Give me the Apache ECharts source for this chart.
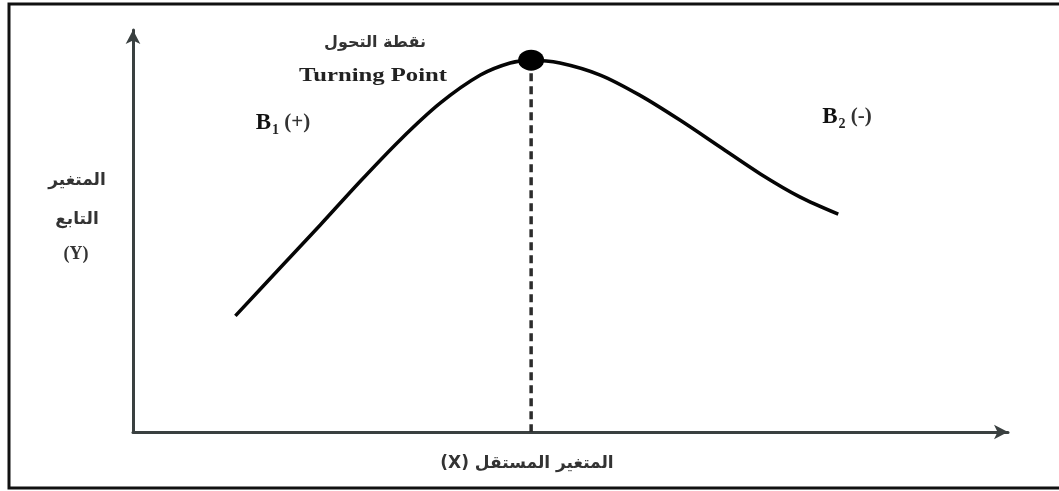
<!DOCTYPE html>
<html>
<head>
<meta charset="utf-8">
<script src="https://cdn.jsdelivr.net/npm/echarts@6/dist/echarts.min.js"></script>
<style>
  html, body { margin: 0; padding: 0; background: #fff; }
  #chart { width: 1059px; height: 491px; }
</style>
</head>
<body>
<div id="chart"></div>
<script>
// Curve: dependent variable Y against independent variable X (schematic units 0-100)
const curveX = [11.7, 16.8, 21.4, 25.9, 30.5, 35.1, 39.7, 43.1, 45.5, 48.8, 53.4, 57.9, 62.5, 67.1, 71.7, 76.2, 80.6];
const curveY = [28.9, 40.8, 51.5, 62.2, 72.6, 81.8, 88.8, 91.8, 92.5, 91.8, 88.8, 83.8, 77.6, 70.9, 64.2, 58.5, 54.2];

// Turning point of the curve
const turningPoint = [45.5, 92.5];

// Text shown on the chart
const turningLabelAr = 'نقطة التحول';
const turningLabelEn = 'Turning Point';
const yLabelLines = ['المتغير', 'التابع', '(Y)'];
const xLabel = '(X) المتغير المستقل';
const slopeLabels = [
  { sub: '1', sign: '(+)' },
  { sub: '2', sign: '(-)' }
];

const curveData = curveX.map((x, i) => [x, curveY[i]]);

const axisLine = {
  show: true,
  onZero: false,
  symbol: ['none', 'arrow'],
  symbolSize: [11, 14],
  lineStyle: { color: '#3a4040', width: 3 }
};

const arFont = 'DejaVu Sans';
const serif = 'Liberation Serif';

function slopeText(item) {
  return {
    text: '{b|B}{s|' + item.sub + '}{g| ' + item.sign + '}',
    rich: {
      b: { fontFamily: serif, fontWeight: 'bold', fontSize: 23, lineHeight: 28, fill: '#111' },
      s: { fontFamily: serif, fontWeight: 'bold', fontSize: 14, lineHeight: 28, fill: '#222', verticalAlign: 'bottom', padding: [9, 0, 0, 1] },
      g: { fontFamily: serif, fontWeight: 'bold', fontSize: 21, lineHeight: 28, fill: '#333' }
    },
    align: 'center',
    verticalAlign: 'middle'
  };
}

function plainText(x, y, text, font) {
  return {
    type: 'text', x: x, y: y,
    style: { text: text, font: font, fill: '#333', align: 'center', verticalAlign: 'middle' }
  };
}

const chart = echarts.init(document.getElementById('chart'), null, { renderer: 'canvas' });

chart.setOption({
  backgroundColor: '#fff',
  animation: false,
  grid: { left: 133, right: 51, top: 30, bottom: 59 },
  xAxis: {
    type: 'value', min: 0, max: 100,
    axisLine: axisLine,
    axisTick: { show: false },
    axisLabel: { show: false },
    splitLine: { show: false }
  },
  yAxis: {
    type: 'value', min: 0, max: 100,
    axisLine: axisLine,
    axisTick: { show: false },
    axisLabel: { show: false },
    splitLine: { show: false }
  },
  series: [
    {
      type: 'line',
      data: curveData,
      smooth: 0.3,
      symbol: 'none',
      lineStyle: { color: '#050505', width: 3.5 },
      z: 3
    },
    {
      type: 'line',
      data: [turningPoint, [turningPoint[0], 0]],
      symbol: 'none',
      lineStyle: { color: '#2c2c2c', width: 3.5, type: [8, 5] },
      z: 2
    },
    {
      type: 'scatter',
      data: [turningPoint],
      symbol: 'circle',
      symbolSize: [26, 21],
      itemStyle: { color: '#000', opacity: 1 },
      z: 4
    }
  ],
  graphic: [
    {
      type: 'rect',
      shape: { x: 9, y: 4, width: 1070, height: 484 },
      style: { fill: 'none', stroke: '#111', lineWidth: 3 },
      silent: true
    },
    plainText(375, 43, turningLabelAr, 'bold 16px "' + arFont + '"'),
    {
      type: 'text', x: 373, y: 76, scaleX: 1.3, originX: 0,
      style: { text: turningLabelEn, font: 'bold 19px "' + serif + '"', fill: '#222', align: 'center', verticalAlign: 'middle' }
    },
    { type: 'text', x: 283, y: 123, style: slopeText(slopeLabels[0]) },
    { type: 'text', x: 847, y: 117, style: slopeText(slopeLabels[1]) },
    plainText(77, 181, yLabelLines[0], 'bold 17px "' + arFont + '"'),
    plainText(77, 220, yLabelLines[1], 'bold 17px "' + arFont + '"'),
    plainText(76, 254, yLabelLines[2], 'bold 18px "' + serif + '"'),
    plainText(527, 464, xLabel, 'bold 17px "' + arFont + '"')
  ]
});
</script>
</body>
</html>
